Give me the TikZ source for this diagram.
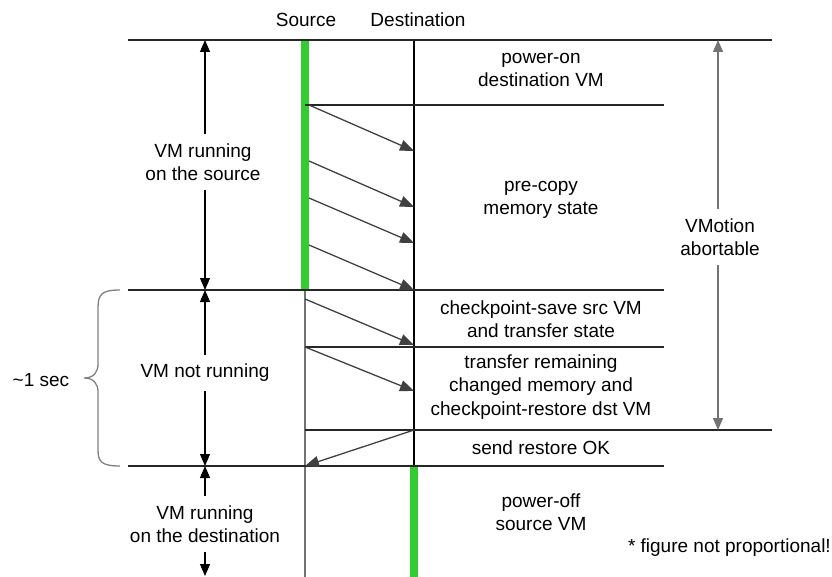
\documentclass[tikz,border=0pt]{standalone}
\usepackage{fontspec}
\setmainfont{Liberation Sans}
\usepackage{tikz}
\usetikzlibrary{arrows.meta}
\definecolor{vmgreen}{RGB}{51,204,51}
\tikzstyle{phase} = [align=center, font=\fontsize{19}{23.5}\selectfont, inner sep=0pt]
\tikzstyle{span} = [phase, fill=white, inner xsep=2pt, inner ysep=9pt]
\tikzstyle{sep} = [line width=1.4pt, black!85]
\tikzstyle{arrow} = [line width=1.3pt, black!75, -{Triangle[length=14pt,width=11pt]}]
\tikzstyle{both} = [line width=1.3pt, {Triangle[length=12pt,width=10pt]}-{Triangle[length=12pt,width=10pt]}]
\tikzstyle{alive} = [line width=8pt, vmgreen]
\tikzstyle{brace} = [line width=1.3pt, black!50]

\begin{document}
\begin{tikzpicture}[x=1pt, y=-1pt]
		\useasboundingbox (0,0) rectangle (832,577);
		% lifelines
		\coordinate (s0) at (305,40);
		\coordinate (s1) at (305,290);
		\coordinate (s2) at (305,577);
		\coordinate (d0) at (414,40);
		\coordinate (d1) at (414,466);
		\coordinate (d2) at (414,577);
		\draw [line width=1.3pt, black!55] (s0) -- (s2);
		\draw [line width=1.3pt] (d0) -- (d1);
		\draw [alive] (s0) -- (s1);
		\draw [alive] (d1) -- (d2);
		\node (src) at (306,20) [phase] {Source};
		\node (dst) at (418,20) [phase] {Destination};
		% phase separators
		\foreach \y/\a/\b in {40/128/772, 105/305/664, 290/128/664, 347/305/664, 430/305/772, 466/128/664}
			\draw [sep] (\a,\y) -- (\b,\y);
		% memory transfers
		\foreach \a/\b/\x [count=\i] in {105/151/309, 161/207/309, 198/243/309, 245/290/309, 299/345/305, 347/391/305} {
			\coordinate (m\i s) at (\x,\a);
			\coordinate (m\i d) at (414,\b);
			\draw [arrow] (m\i s) -- (m\i d);
		}
		\coordinate (ok s) at (414,430);
		\coordinate (ok d) at (305,466);
		\draw [arrow] (ok s) -- (ok d);
		% phase texts
		\node (pwron) at (541,70) [phase] {power-on\\destination VM};
		\node (precopy) at (541,200) [phase] {pre-copy\\memory state};
		\node (ckpt) at (541,319) [phase] {checkpoint-save src VM\\and transfer state};
		\node (xfer) at (541,387) [phase] {transfer remaining\\changed memory and\\checkpoint-restore dst VM};
		\node (okmsg) at (541,448) [phase] {send restore OK};
		\node (pwroff) at (541,512) [phase] {power-off\\source VM};
		% time spans
		\coordinate (t0) at (205,40);
		\coordinate (t1) at (205,290);
		\coordinate (t2) at (205,466);
		\coordinate (t3) at (205,576);
		\draw [both] (t0) -- (t1);
		\draw [both] (t1) -- (t2);
		\draw [both] (t2) -- (t3);
		\node (run1) at (203,162) [span] {VM running\\on the source};
		\node (stop) at (205,373) [span] {VM not running};
		\node (run2) at (205,524) [span] {VM running\\on the destination};
		\coordinate (a0) at (718,40);
		\coordinate (a1) at (718,430);
		\draw [both, black!55] (a0) -- (a1);
		\node (abort) at (720,237) [span] {VMotion\\abortable};
		% downtime brace
		\draw [brace] (120,290) .. controls (102,290) and (98,294) .. (98,308) -- (98,364)
			.. controls (98,372) and (94,378) .. (84,378) .. controls (94,378) and (98,384) .. (98,392)
			-- (98,450) .. controls (98,462) and (102,466) .. (120,466);
		\node (sec) at (41,380) [phase] {\textasciitilde1 sec};
		\node (note) at (831,548) [phase, anchor=east] {* figure not proportional!};
	\end{tikzpicture}
\end{document}
